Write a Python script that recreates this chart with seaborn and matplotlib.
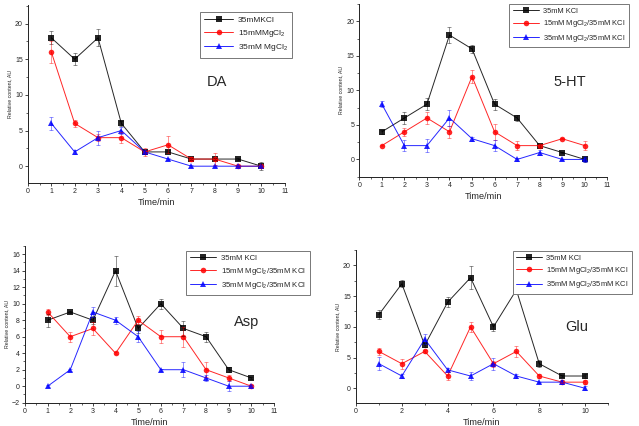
import matplotlib
matplotlib.use("Agg")
import matplotlib.pyplot as plt
import numpy as np
import pandas as pd
import seaborn as sns
from matplotlib.ticker import MultipleLocator

time = [1, 2, 3, 4, 5, 6, 7, 8, 9, 10]

# DA
da_kcl = [18, 15, 18, 6, 2, 2, 1, 1, 1, 0]
da_kcl_err = [0.9, 0.8, 1.2, 0.3, 0.3, 0.2, 0.2, 0.2, 0.1, 0.6]
da_mg15 = [16, 6, 4, 4, 2, 3, 1, 1, 0, 0]
da_mg15_err = [1.5, 0.5, 0.5, 0.8, 0.6, 1.2, 0.3, 0.8, 0.1, 0.2]
da_mg35 = [6, 2, 4, 5, 2, 1, 0, 0, 0, 0]
da_mg35_err = [0.9, 0.3, 1.0, 0.5, 0.3, 0.2, 0.1, 0.1, 0.1, 0.2]

# 5-HT
ht_kcl = [4, 6, 8, 18, 16, 8, 6, 2, 1, 0]
ht_kcl_err = [0.3, 0.8, 0.9, 1.2, 0.6, 0.8, 0.5, 0.3, 0.1, 0.3]
ht_mg15 = [2, 4, 6, 4, 12, 4, 2, 2, 3, 2]
ht_mg15_err = [0.1, 0.6, 0.8, 0.9, 0.9, 1.2, 0.7, 0.3, 0.1, 0.6]
ht_mg35 = [8, 2, 2, 6, 3, 2, 0, 1, 0, 0]
ht_mg35_err = [0.4, 0.8, 0.9, 1.2, 0.3, 0.8, 0.2, 0.3, 0.1, 0.4]

# Asp
asp_kcl = [8, 9, 8, 14, 7, 10, 7, 6, 2, 1]
asp_kcl_err = [0.8, 0.1, 0.5, 1.8, 0.5, 0.6, 0.9, 0.6, 0.3, 0.1]
asp_mg15 = [9, 6, 7, 4, 8, 6, 6, 2, 1, 0]
asp_mg15_err = [0.4, 0.6, 0.8, 0.1, 0.5, 0.8, 1.2, 0.9, 0.4, 0.1]
asp_mg35 = [0, 2, 9, 8, 6, 2, 2, 1, 0, 0]
asp_mg35_err = [0.1, 0.1, 0.6, 0.4, 0.7, 0.1, 0.9, 0.4, 0.6, 0.1]

# Glu
glu_kcl = [12, 17, 7, 14, 18, 10, 16, 4, 2, 2]
glu_kcl_err = [0.8, 0.6, 0.3, 0.8, 1.9, 0.6, 0.3, 0.6, 0.1, 0.3]
glu_mg15 = [6, 4, 6, 2, 10, 4, 6, 2, 1, 1]
glu_mg15_err = [0.6, 0.8, 0.3, 0.7, 0.8, 0.5, 0.9, 0.3, 0.1, 0.3]
glu_mg35 = [4, 2, 8, 3, 2, 4, 2, 1, 1, 0]
glu_mg35_err = [1.1, 0.3, 0.8, 0.3, 0.6, 1.0, 0.3, 0.1, 0.3, 0.3]

labels_da = ['35mMKCl', '15mMMgCl$_2$', '35mM MgCl$_2$']
labels_mix = ['35mM KCl', '15mM MgCl$_2$/35mM KCl', '35mM MgCl$_2$/35mM KCl']
colors = ['#000000', '#ff0000', '#0000ff']
markers = ['s', 'o', '^']

sns.set_style("ticks")
plt.rcParams['font.family'] = ['Liberation Sans', 'DejaVu Sans']
plt.rcParams['mathtext.fontset'] = 'custom'
plt.rcParams['mathtext.rm'] = 'Liberation Sans'

fig = plt.figure(figsize=(6.39, 4.26), dpi=100)
W, H = 639, 426


def px_axes(left, right, top, bottom):
    return fig.add_axes([left / W, (H - bottom) / H, (right - left) / W, (bottom - top) / H])


panels = [
    dict(rect=(28, 284.7, 5, 183.3), series=[da_kcl, da_mg15, da_mg35],
         errs=[da_kcl_err, da_mg15_err, da_mg35_err], labels=labels_da,
         ylim=(-2.4, 22.6), ymaj=5, ymin=2.5, xmaj=1, name='DA', name_xy=(0.736, 0.568),
         leg=(0.655, 0.985), legfs=6.0),
    dict(rect=(359.3, 607.3, 4, 176.7), series=[ht_kcl, ht_mg15, ht_mg35],
         errs=[ht_kcl_err, ht_mg15_err, ht_mg35_err], labels=labels_mix,
         ylim=(-2.5, 22.5), ymaj=5, ymin=2.5, xmaj=1, name='5-HT', name_xy=(0.85, 0.548),
         leg=(0.59, 1.023), legfs=5.4),
    dict(rect=(25, 274, 246, 402.7), series=[asp_kcl, asp_mg15, asp_mg35],
         errs=[asp_kcl_err, asp_mg15_err, asp_mg35_err], labels=labels_mix,
         ylim=(-2, 17), ymaj=2, ymin=1, xmaj=1, name='Asp', name_xy=(0.89, 0.515),
         leg=(0.63, 0.994), legfs=5.6),
    dict(rect=(356, 608, 250, 403.3), series=[glu_kcl, glu_mg15, glu_mg35],
         errs=[glu_kcl_err, glu_mg15_err, glu_mg35_err], labels=labels_mix,
         ylim=(-2.44, 22.5), ymaj=5, ymin=2.5, xmaj=2, name='Glu', name_xy=(0.877, 0.498),
         leg=(0.607, 1.02), legfs=5.4),
]

for p in panels:
    ax = px_axes(*p['rect'])
    frames = []
    for vals, lab in zip(p['series'], p['labels']):
        frames.append(pd.DataFrame({'time': time, 'value': vals, 'group': lab}))
    df = pd.concat(frames, ignore_index=True)
    sns.lineplot(data=df, x='time', y='value', hue='group', style='group',
                 palette=dict(zip(p['labels'], colors)),
                 markers=dict(zip(p['labels'], markers)), dashes=False,
                 markersize=4.0, markeredgewidth=0, linewidth=0.7, ax=ax)
    for line in ax.lines:
        line.set_alpha(0.85)
    for vals, err, c in zip(p['series'], p['errs'], colors):
        ax.errorbar(time, vals, yerr=err, fmt='none', ecolor=c, elinewidth=0.5,
                    capsize=1.6, capthick=0.5, alpha=0.6)

    ax.set_xlim(0, 11)
    ax.set_ylim(*p['ylim'])
    ax.xaxis.set_major_locator(MultipleLocator(p['xmaj']))
    ax.xaxis.set_minor_locator(MultipleLocator(p['xmaj'] / 2))
    ax.yaxis.set_major_locator(MultipleLocator(p['ymaj']))
    ax.yaxis.set_minor_locator(MultipleLocator(p['ymin']))
    ax.tick_params(which='major', length=2.2, width=0.6, labelsize=5.0, pad=1.5, direction='out')
    ax.tick_params(which='minor', length=1.3, width=0.5, direction='out')
    if p['xmaj'] == 1:
        ax.set_xticks(range(0, 12))
    sns.despine(ax=ax)
    for s in ['left', 'bottom']:
        ax.spines[s].set_linewidth(0.7)
        ax.spines[s].set_color('#222222')

    ax.set_xlabel('Time/min', fontsize=6.6, labelpad=2)
    ax.set_ylabel('Relative content, AU', fontsize=3.8, labelpad=2)
    ax.text(*p['name_xy'], p['name'], transform=ax.transAxes, fontsize=10.5,
            ha='center', va='center')

    handles, labs = ax.get_legend_handles_labels()
    leg = ax.legend(handles, labs, loc='upper left', bbox_to_anchor=p['leg'],
                    fontsize=p['legfs'], frameon=True, fancybox=False,
                    edgecolor='#777777', framealpha=1, handlelength=3.4,
                    borderpad=0.5, labelspacing=0.45, handletextpad=0.6)
    leg.get_frame().set_linewidth(0.7)

fig.savefig('out.png', dpi=100)
